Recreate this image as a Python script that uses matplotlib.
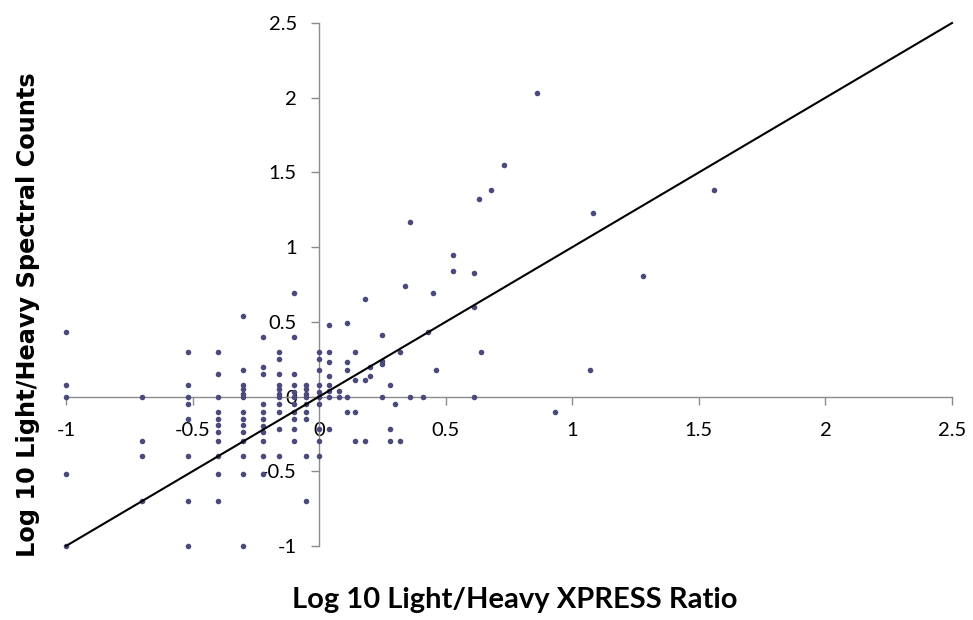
import matplotlib
matplotlib.use("Agg")
import matplotlib.pyplot as plt

plt.rcParams['axes.unicode_minus'] = False

# Data: (x, y) pairs grouped by x column
columns = {
    -1.00: [0.43, 0.08, 0.0, -0.52, -1.0],
    -0.70: [0.0, -0.30, -0.40, -0.70],
    -0.52: [0.30, 0.08, 0.0, -0.05, -0.15, -0.40, -0.70, -1.0],
    -0.40: [0.30, 0.15, 0.0, -0.10, -0.15, -0.19, -0.24, -0.30, -0.40, -0.52, -0.70],
    -0.30: [0.54, 0.18, 0.08, 0.05, 0.02, 0.0, -0.10, -0.15, -0.19, -0.24, -0.30, -0.40, -0.52, -1.0],
    -0.22: [0.40, 0.20, 0.15, -0.05, -0.10, -0.15, -0.20, -0.24, -0.30, -0.40, -0.52],
    -0.16: [0.30, 0.25, 0.15, 0.08, 0.05, 0.02, 0.0, -0.05, -0.10, -0.22, -0.40],
    -0.10: [0.69, 0.40, 0.15, 0.08, 0.03, 0.0, -0.05, -0.10, -0.15, -0.22, -0.30],
    -0.05: [0.08, 0.05, 0.02, 0.0, -0.05, -0.10, -0.15, -0.40, -0.70],
    0.00: [0.30, 0.25, 0.18, 0.08, 0.03, 0.0, -0.05, -0.22, -0.30, -0.40],
    0.04: [0.48, 0.30, 0.23, 0.14, 0.08, 0.04, 0.0, -0.22],
    0.08: [0.04, 0.0],
    0.11: [0.49, 0.23, 0.18, 0.0, -0.10],
    0.14: [0.30, 0.11, -0.10, -0.30],
    0.18: [0.65, 0.11, -0.30],
    0.20: [0.20, 0.14],
    0.25: [0.41, 0.24, 0.22, 0.0],
    0.28: [0.08, -0.22, -0.30],
    0.30: [-0.05],
    0.32: [0.30, -0.30],
    0.34: [0.74],
    0.36: [1.17, 0.0],
    0.41: [0.0],
    0.43: [0.43],
    0.45: [0.69],
    0.46: [0.18],
    0.53: [0.95, 0.84],
    0.61: [0.83, 0.60, 0.0],
    0.63: [1.32],
    0.64: [0.30],
    0.68: [1.38],
    0.73: [1.55],
    0.86: [2.03],
    0.93: [-0.10],
    1.07: [0.18],
    1.08: [1.23],
    1.28: [0.81],
    1.56: [1.38],
}
x_vals = [x for x, ys in columns.items() for _ in ys]
y_vals = [y for ys in columns.values() for y in ys]

line_x = [-1.0, 2.5]
line_y = [-1.0, 2.5]

x_ticks = [-1, -0.5, 0, 0.5, 1, 1.5, 2, 2.5]
y_ticks = [-1, -0.5, 0, 0.5, 1, 1.5, 2, 2.5]
x_tick_labels = ['-1', '-0.5', '0', '0.5', '1', '1.5', '2', '2.5']
y_tick_labels = ['-1', '-0.5', '0', '0.5', '1', '1.5', '2', '2.5']

fig = plt.figure(figsize=(9.73, 6.2), dpi=100)
ax = fig.add_axes([66/973, 74/620, 886/973, 523/620])

ax.scatter(x_vals, y_vals, s=16, color='#4a4a7c', zorder=3, linewidths=0, clip_on=False)
ax.plot(line_x, line_y, color='black', lw=1.5, zorder=4, clip_on=False)

ax.set_xlim(-1, 2.5)
ax.set_ylim(-1, 2.5)

for s in ['top', 'right']:
    ax.spines[s].set_visible(False)
ax.spines['left'].set_position(('data', 0))
ax.spines['bottom'].set_position(('data', 0))
for s in ['left', 'bottom']:
    ax.spines[s].set_color('#8c8c8c')
    ax.spines[s].set_linewidth(1.0)

ax.set_xticks(x_ticks)
ax.set_xticklabels(x_tick_labels)
ax.set_yticks(y_ticks)
ax.set_yticklabels(y_tick_labels)
ax.tick_params(axis='both', direction='out', length=6, width=1, color='#8c8c8c',
               labelsize=14.5, labelcolor='black')
ax.tick_params(axis='x', pad=12)
ax.tick_params(axis='y', pad=10)
for lab in ax.get_xticklabels() + ax.get_yticklabels():
    lab.set_family('Lato')

fig.text(515/973, 1 - 600/620, 'Log 10 Light/Heavy XPRESS Ratio', ha='center', va='center',
         fontsize=21, fontweight='bold', family='Lato')
fig.text(28/973, 1 - 315/620, 'Log 10 Light/Heavy Spectral Counts', ha='center', va='center',
         rotation=90, fontsize=17.3, fontweight='bold', family='DejaVu Sans')

fig.savefig('out.png', dpi=100)
